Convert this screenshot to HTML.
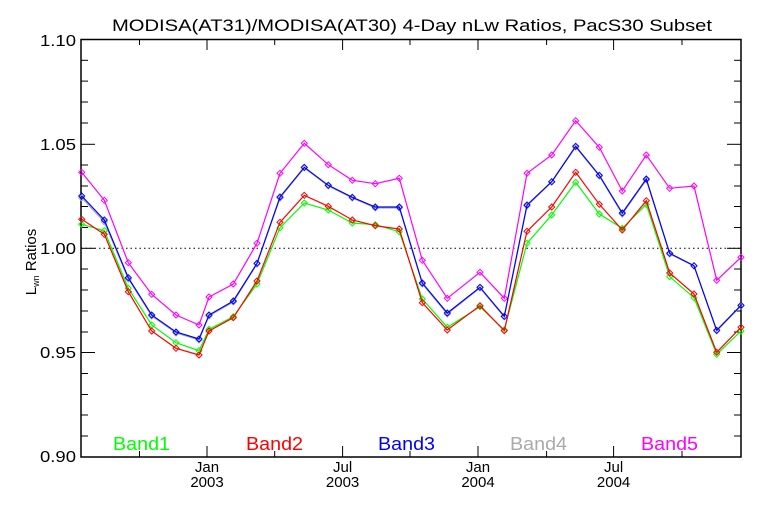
<!DOCTYPE html>
<html><head><style>
html,body{margin:0;padding:0;background:#fff;}
svg{display:block;font-family:"Liberation Sans",sans-serif;}
</style></head><body>
<svg width="768" height="512" viewBox="0 0 768 512" xmlns="http://www.w3.org/2000/svg">
<defs>
<marker id="mg" markerUnits="userSpaceOnUse" markerWidth="10" markerHeight="10" refX="5" refY="5" overflow="visible"><path d="M5,2 L8,5 L5,8 L2,5 Z" fill="none" stroke="#aaaaaa"/></marker>
<marker id="mm" markerUnits="userSpaceOnUse" markerWidth="10" markerHeight="10" refX="5" refY="5" overflow="visible"><path d="M5,2 L8,5 L5,8 L2,5 Z" fill="none" stroke="#ff00ff"/></marker>
<marker id="mb" markerUnits="userSpaceOnUse" markerWidth="10" markerHeight="10" refX="5" refY="5" overflow="visible"><path d="M5,2 L8,5 L5,8 L2,5 Z" fill="none" stroke="#0000ff"/></marker>
<marker id="mgr" markerUnits="userSpaceOnUse" markerWidth="10" markerHeight="10" refX="5" refY="5" overflow="visible"><path d="M5,2 L8,5 L5,8 L2,5 Z" fill="none" stroke="#00ff00"/></marker>
<marker id="mr" markerUnits="userSpaceOnUse" markerWidth="10" markerHeight="10" refX="5" refY="5" overflow="visible"><path d="M5,2 L8,5 L5,8 L2,5 Z" fill="none" stroke="#ff0000"/></marker>
</defs>
<rect width="768" height="512" fill="#fff"/>
<text x="112" y="31" font-size="17" textLength="600" lengthAdjust="spacingAndGlyphs" fill="#000">MODISA(AT31)/MODISA(AT30) 4-Day nLw Ratios, PacS30 Subset</text>
<rect x="81" y="39.5" width="660" height="417.5" fill="none" stroke="#000" stroke-width="1.5"/>
<g stroke="#000" stroke-width="1">
<line x1="81" y1="39.5" x2="95" y2="39.5"/><line x1="81" y1="144.3" x2="95" y2="144.3"/><line x1="81" y1="248.3" x2="95" y2="248.3"/><line x1="81" y1="352.5" x2="95" y2="352.5"/>
<line x1="727" y1="39.5" x2="741" y2="39.5"/><line x1="727" y1="144.3" x2="741" y2="144.3"/><line x1="727" y1="248.3" x2="741" y2="248.3"/><line x1="727" y1="352.5" x2="741" y2="352.5"/>
<line x1="81" y1="60.3" x2="88" y2="60.3"/><line x1="81" y1="81.1" x2="88" y2="81.1"/><line x1="81" y1="102" x2="88" y2="102"/><line x1="81" y1="123" x2="88" y2="123"/>
<line x1="81" y1="165" x2="88" y2="165"/><line x1="81" y1="186" x2="88" y2="186"/><line x1="81" y1="206.5" x2="88" y2="206.5"/><line x1="81" y1="227.5" x2="88" y2="227.5"/>
<line x1="81" y1="269" x2="88" y2="269"/><line x1="81" y1="290" x2="88" y2="290"/><line x1="81" y1="311" x2="88" y2="311"/><line x1="81" y1="332" x2="88" y2="332"/>
<line x1="81" y1="373.5" x2="88" y2="373.5"/><line x1="81" y1="394.5" x2="88" y2="394.5"/><line x1="81" y1="415" x2="88" y2="415"/><line x1="81" y1="436" x2="88" y2="436"/>
<line x1="734" y1="60.3" x2="741" y2="60.3"/><line x1="734" y1="81.1" x2="741" y2="81.1"/><line x1="734" y1="102" x2="741" y2="102"/><line x1="734" y1="123" x2="741" y2="123"/>
<line x1="734" y1="165" x2="741" y2="165"/><line x1="734" y1="186" x2="741" y2="186"/><line x1="734" y1="206.5" x2="741" y2="206.5"/><line x1="734" y1="227.5" x2="741" y2="227.5"/>
<line x1="734" y1="269" x2="741" y2="269"/><line x1="734" y1="290" x2="741" y2="290"/><line x1="734" y1="311" x2="741" y2="311"/><line x1="734" y1="332" x2="741" y2="332"/>
<line x1="734" y1="373.5" x2="741" y2="373.5"/><line x1="734" y1="394.5" x2="741" y2="394.5"/><line x1="734" y1="415" x2="741" y2="415"/><line x1="734" y1="436" x2="741" y2="436"/>
<line x1="207" y1="457" x2="207" y2="446"/><line x1="342.6" y1="457" x2="342.6" y2="446"/><line x1="478" y1="457" x2="478" y2="446"/><line x1="613.6" y1="457" x2="613.6" y2="446"/>
<line x1="139.5" y1="457" x2="139.5" y2="451"/><line x1="274.7" y1="457" x2="274.7" y2="451"/><line x1="410" y1="457" x2="410" y2="451"/><line x1="546.6" y1="457" x2="546.6" y2="451"/><line x1="682" y1="457" x2="682" y2="451"/>
<line x1="207" y1="39.5" x2="207" y2="50"/><line x1="342.6" y1="39.5" x2="342.6" y2="50"/><line x1="478" y1="39.5" x2="478" y2="50"/><line x1="613.6" y1="39.5" x2="613.6" y2="50"/>
<line x1="139.5" y1="39.5" x2="139.5" y2="45"/><line x1="274.7" y1="39.5" x2="274.7" y2="45"/><line x1="410" y1="39.5" x2="410" y2="45"/><line x1="546.6" y1="39.5" x2="546.6" y2="45"/><line x1="682" y1="39.5" x2="682" y2="45"/>
</g>
<line x1="81" y1="248.3" x2="741" y2="248.3" stroke="#000" stroke-width="1" stroke-dasharray="1.5,3"/>
<g font-size="16" fill="#000">
<text x="40" y="46" textLength="36" lengthAdjust="spacingAndGlyphs">1.10</text>
<text x="40" y="150" textLength="36" lengthAdjust="spacingAndGlyphs">1.05</text>
<text x="40" y="254" textLength="36" lengthAdjust="spacingAndGlyphs">1.00</text>
<text x="40" y="358" textLength="36" lengthAdjust="spacingAndGlyphs">0.95</text>
<text x="40" y="462" textLength="36" lengthAdjust="spacingAndGlyphs">0.90</text>
</g>
<g font-size="15" fill="#000" text-anchor="middle">
<text x="207" y="472">Jan</text><text x="207" y="487">2003</text>
<text x="342.6" y="472">Jul</text><text x="342.6" y="487">2003</text>
<text x="478" y="472">Jan</text><text x="478" y="487">2004</text>
<text x="613.6" y="472">Jul</text><text x="613.6" y="487">2004</text>
</g>
<text transform="translate(36,262) rotate(-90)" font-size="15" text-anchor="middle" fill="#000">L<tspan font-size="9" dy="3">wn</tspan><tspan dy="-3"> Ratios</tspan></text>
<g font-size="18">
<text x="113" y="450" textLength="57" lengthAdjust="spacingAndGlyphs" fill="#00ff00">Band1</text>
<text x="246" y="450" textLength="57" lengthAdjust="spacingAndGlyphs" fill="#ff0000">Band2</text>
<text x="378" y="450" textLength="57" lengthAdjust="spacingAndGlyphs" fill="#0000ff">Band3</text>
<text x="510" y="450" textLength="57" lengthAdjust="spacingAndGlyphs" fill="#aaaaaa">Band4</text>
<text x="641" y="450" textLength="57" lengthAdjust="spacingAndGlyphs" fill="#ff00ff">Band5</text>
</g>
<g fill="none" stroke-width="1.2">
<polyline stroke="#aaaaaa" marker-start="url(#mg)" marker-mid="url(#mg)" marker-end="url(#mg)" points="81.7,198 104.3,222 128.3,279 151.7,316 176,333 199,340 209,316 233.3,302 257,264 280,198 304.3,168 328.3,186 352.3,198 375.3,208 399.3,208 422.3,284 447.3,314 480,288 504.3,317 527,206 551.7,182 575.7,147 599.3,176 622.3,214 646.3,180 669.7,254 694,266 716.7,331 741,306"/>
<polyline stroke="#ff00ff" marker-start="url(#mm)" marker-mid="url(#mm)" marker-end="url(#mm)" points="81.7,172.3 104.3,200.3 128.3,262.7 151.7,294.3 176,315 199,325 209,297 233.3,284 257,243.3 280,173.3 304.3,143.3 328.3,164.7 352.3,180.3 375.3,183.7 399.3,178.3 422.3,260.3 447.3,298.3 480,272.3 504.3,298.3 527,173.3 551.7,155 575.7,120.7 599.3,147.3 622.3,191 646.3,155 669.7,188.3 694,186 716.7,280.3 741,257.3"/>
<polyline stroke="#0000ff" marker-start="url(#mb)" marker-mid="url(#mb)" marker-end="url(#mb)" points="81.7,196 104.3,220 128.3,277.7 151.7,315 176,332 199,339 209,315 233.3,301 257,263.3 280,197 304.3,167.3 328.3,185.3 352.3,197.3 375.3,207 399.3,207 422.3,283 447.3,313 480,287.3 504.3,316.3 527,205 551.7,181.7 575.7,146.3 599.3,175.3 622.3,213 646.3,179 669.7,253.3 694,265.7 716.7,330.3 741,305.3"/>
<polyline stroke="#00ff00" marker-start="url(#mgr)" marker-mid="url(#mgr)" marker-end="url(#mgr)" points="81.7,224.3 104.3,230.7 128.3,288.3 151.7,325 176,342.7 199,350.7 209,329.3 233.3,316.7 257,284 280,227.7 304.3,203 328.3,210 352.3,223 375.3,224.7 399.3,231.7 422.3,299 447.3,327.3 480,306.7 504.3,330 527,243.3 551.7,215 575.7,182.3 599.3,214 622.3,228.3 646.3,204.3 669.7,276.7 694,297.7 716.7,354.3 741,331"/>
<polyline stroke="#ff0000" marker-start="url(#mr)" marker-mid="url(#mr)" marker-end="url(#mr)" points="81.7,219.3 104.3,234.3 128.3,291.7 151.7,331 176,348.3 199,355 209,331 233.3,317.7 257,281 280,222.3 304.3,195.3 328.3,206.3 352.3,220 375.3,225.7 399.3,229 422.3,302.7 447.3,330 480,305.7 504.3,330.7 527,231.3 551.7,207 575.7,172.3 599.3,204.3 622.3,230 646.3,200.7 669.7,273 694,294 716.7,352.3 741,327.3"/>
</g>
</svg>
</body></html>
